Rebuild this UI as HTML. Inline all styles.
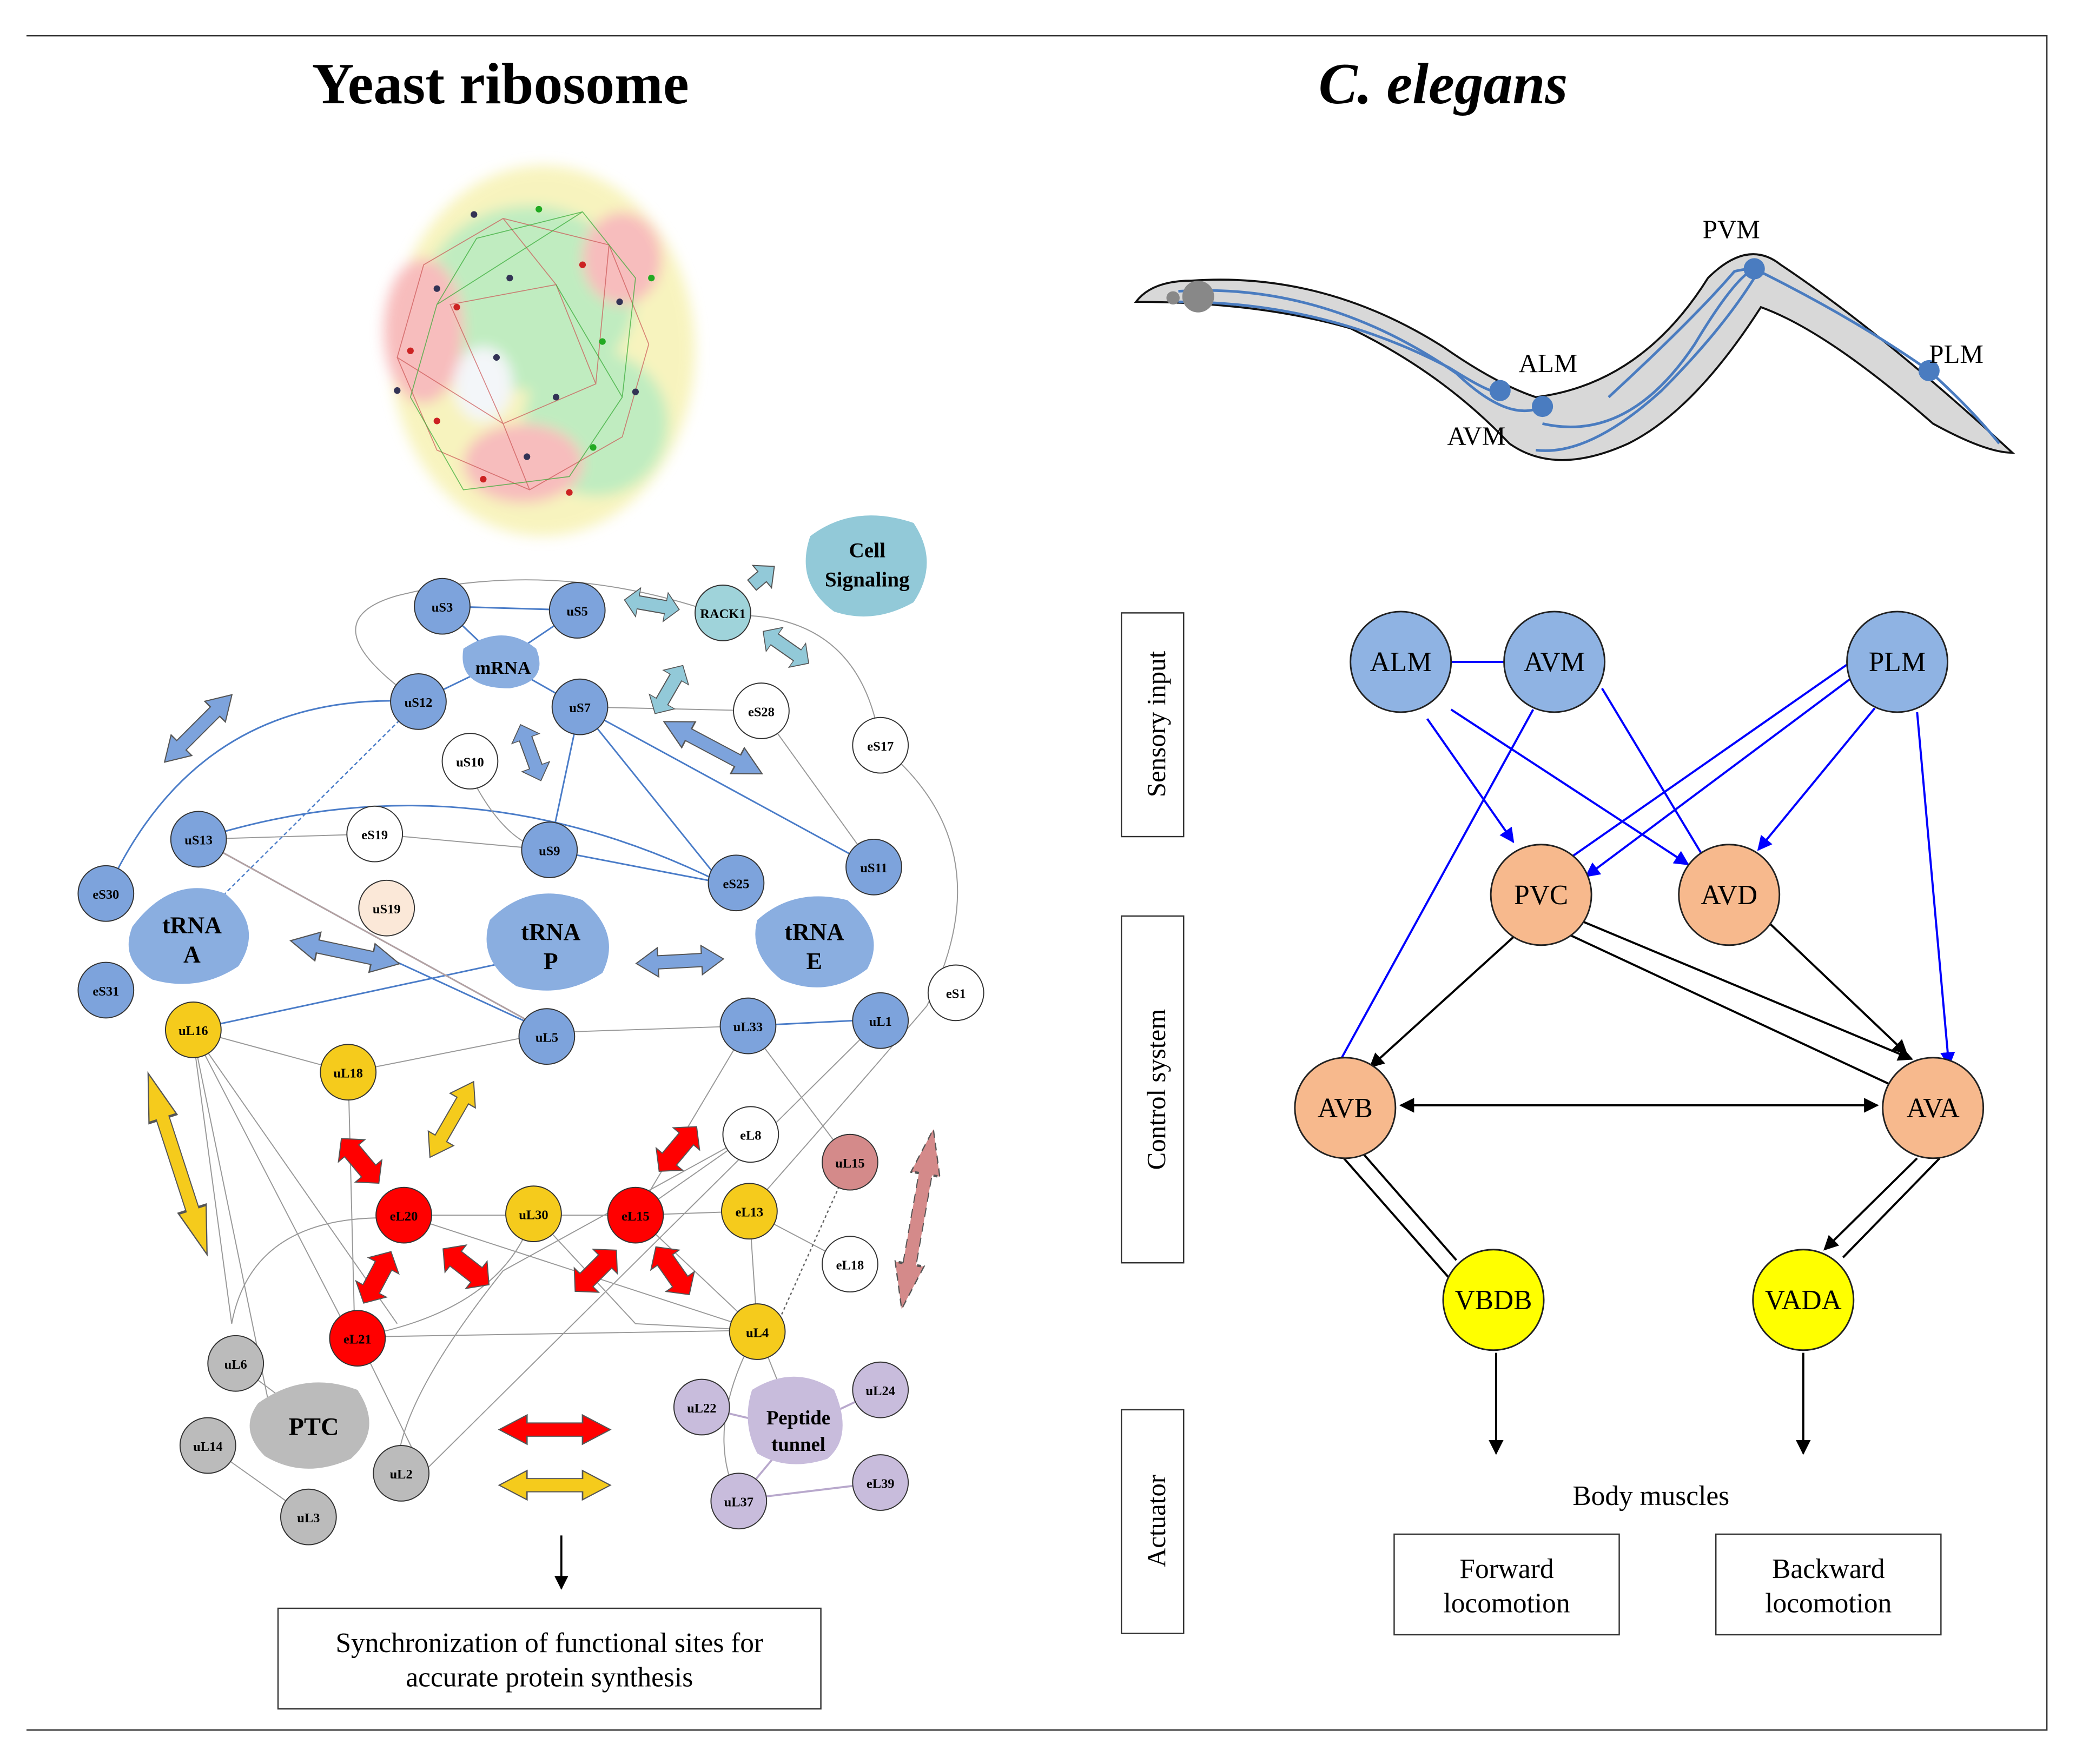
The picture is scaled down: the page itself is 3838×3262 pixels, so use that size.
<!DOCTYPE html>
<html><head><meta charset="utf-8"><style>
html,body{margin:0;padding:0;background:#fff}
svg{display:block}
text{font-family:"Liberation Serif",serif}
</style></head><body>
<svg width="3838" height="3262" viewBox="0 0 1568 1332.6" xmlns="http://www.w3.org/2000/svg">
<defs>
<marker id="ab" viewBox="0 0 10 10" refX="9" refY="5" markerWidth="7" markerHeight="7" orient="auto"><path d="M0,0L10,5L0,10z" fill="#00f"/></marker>
<marker id="ak" viewBox="0 0 10 10" refX="9" refY="5" markerWidth="7" markerHeight="7" orient="auto"><path d="M0,0L10,5L0,10z" fill="#000"/></marker>
<marker id="aks" viewBox="0 0 10 10" refX="1" refY="5" markerWidth="7" markerHeight="7" orient="auto"><path d="M10,0L0,5L10,10z" fill="#000"/></marker>
<filter id="bl"><feGaussianBlur stdDeviation="5"/></filter>
</defs>
<path d="M20,27H1546V1307H20" fill="none" stroke="#333" stroke-width="1"/>
<text x="378" y="78" font-size="44" font-weight="bold" text-anchor="middle">Yeast ribosome</text>
<text x="1090" y="78" font-size="44" font-weight="bold" font-style="italic" text-anchor="middle">C. elegans</text>

<!-- ribosome image approx -->
<g filter="url(#bl)" opacity="0.65">
<ellipse cx="410" cy="265" rx="115" ry="140" fill="#f4ee9c"/>
<ellipse cx="400" cy="225" rx="80" ry="70" fill="#9fe39f"/>
<ellipse cx="450" cy="320" rx="55" ry="55" fill="#9fe39f"/>
<ellipse cx="320" cy="250" rx="30" ry="55" fill="#f49a9a"/>
<ellipse cx="470" cy="195" rx="30" ry="35" fill="#f49a9a"/>
<ellipse cx="395" cy="350" rx="45" ry="30" fill="#f49a9a"/>
<ellipse cx="365" cy="290" rx="22" ry="28" fill="#eef2f6"/>
</g>
<g stroke="#c55" stroke-width="0.7" opacity="0.7" fill="none">
<path d="M320,200L380,165L460,185L490,260L470,330L400,370L330,340L300,270Z"/>
<path d="M340,230L420,215L450,290L380,320Z"/>
<path d="M380,165L420,215M460,185L450,290M300,270L380,320M400,370L380,320"/>
</g>
<g stroke="#3a3" stroke-width="0.7" opacity="0.7" fill="none">
<path d="M360,180L440,160L480,210L470,300L430,360L350,370L310,300L330,230Z"/>
<path d="M420,215L470,300M330,230L440,160"/>
</g>
<g fill="#335">
<circle cx="358" cy="162" r="2.5"/><circle cx="407" cy="158" r="2.5" fill="#2a2"/><circle cx="330" cy="218" r="2.5"/><circle cx="345" cy="232" r="2.5" fill="#c22"/>
<circle cx="385" cy="210" r="2.5"/><circle cx="440" cy="200" r="2.5" fill="#c22"/><circle cx="468" cy="228" r="2.5"/><circle cx="455" cy="258" r="2.5" fill="#2a2"/>
<circle cx="310" cy="265" r="2.5" fill="#c22"/><circle cx="480" cy="296" r="2.5"/><circle cx="330" cy="318" r="2.5" fill="#c22"/><circle cx="448" cy="338" r="2.5" fill="#2a2"/>
<circle cx="398" cy="345" r="2.5"/><circle cx="365" cy="362" r="2.5" fill="#c22"/><circle cx="420" cy="300" r="2.5"/><circle cx="375" cy="270" r="2.5"/>
<circle cx="492" cy="210" r="2.5" fill="#2a2"/><circle cx="430" cy="372" r="2.5" fill="#c22"/><circle cx="300" cy="295" r="2.5"/>
</g>

<!-- left network edges -->
<g stroke="#4a7cc8" stroke-width="1.2" fill="none">
<path d="M334,458L436,461"/><path d="M334,458L378,500"/><path d="M436,461L378,500"/>
<path d="M316,530L378,500"/><path d="M438,534L378,500"/>
<path d="M438,534L415,642L545,667"/><path d="M438,534L545,667"/><path d="M438,534L660,655"/>
<path d="M150,634Q350,570 545,667"/><path d="M150,634L415,780"/>
<path d="M316,530Q150,520 80,675"/>
<path d="M145,778L415,720"/>
<path d="M415,780L285,720"/>
<path d="M565,775L665,770"/>
</g>
<g stroke="#999" stroke-width="0.8" fill="none">
<path d="M150,634L283,630L415,642"/>
<path d="M438,534L575,537"/><path d="M575,537L660,655"/>
<path d="M350,575Q380,640 415,642"/>
<path d="M316,530Q230,470 300,450Q420,420 546,465"/>
<path d="M546,465Q650,460 665,563"/>
<path d="M665,563Q760,640 700,760Q640,830 565,915"/>
<path d="M145,778L263,810"/><path d="M263,810L415,780"/><path d="M415,780L565,775"/>
<path d="M145,778L265,1010"/><path d="M145,778L205,1070"/><path d="M145,778L300,1000"/>
<path d="M145,778L175,1000"/>
<path d="M263,810L268,1010"/>
<path d="M305,918L480,918"/><path d="M480,918L566,915"/>
<path d="M403,917L480,1000L572,1005"/>
<path d="M305,918L572,1005"/>
<path d="M270,1010L572,1005"/>
<path d="M270,1010Q380,990 403,917"/>
<path d="M566,915L572,1005"/><path d="M480,918L572,1005"/>
<path d="M565,775L480,918"/><path d="M565,775L642,878"/>
<path d="M566,915L642,955"/>
<path d="M567,857L480,918"/>
<path d="M665,770L320,1112"/>
<path d="M567,857L380,960Q300,1060 300,1112"/>
<path d="M175,1000Q190,920 290,920"/>
<path d="M270,1010L320,1112"/>
<path d="M572,1005Q530,1080 558,1133"/>
<path d="M572,1005L602,1080"/>
<path d="M178,1030L238,1075"/><path d="M157,1092L233,1146"/>
</g>
<g stroke="#b8a8cc" stroke-width="1.5" fill="none">
<path d="M530,1063L602,1080L665,1050"/><path d="M558,1133L665,1120"/><path d="M558,1133L602,1080"/>
</g>
<path d="M150,634L415,780" stroke="#e0b090" stroke-width="1.2" opacity="0.7" fill="none"/>
<path d="M316,530L170,675" stroke="#4a7cc8" stroke-dasharray="3,2" fill="none"/>
<path d="M642,878L585,1005" stroke="#666" stroke-dasharray="2,2" fill="none"/>

<g font-weight="bold" text-anchor="middle">
<path d="M350,490Q380,470 405,490Q415,515 385,520Q345,520 350,490Z" fill="#8aaee0"/>
<text x="380" y="509" font-size="14">mRNA</text>
<path d="M100,700Q130,660 170,675Q200,700 180,730Q150,750 115,740Q90,725 100,700Z" fill="#8aaee0"/>
<text x="145" y="705" font-size="18">tRNA</text><text x="145" y="727" font-size="18">A</text>
<path d="M370,695Q400,665 440,680Q470,705 455,735Q425,755 390,745Q360,725 370,695Z" fill="#8aaee0"/>
<text x="416" y="710" font-size="18">tRNA</text><text x="416" y="732" font-size="18">P</text>
<path d="M572,695Q600,670 640,680Q670,705 655,732Q625,755 590,740Q565,720 572,695Z" fill="#8aaee0"/>
<text x="615" y="710" font-size="18">tRNA</text><text x="615" y="732" font-size="18">E</text>
<path d="M612,405Q645,380 690,395Q710,425 690,455Q660,472 630,462Q600,440 612,405Z" fill="#92c9d8"/>
<text x="655" y="421" font-size="16">Cell</text><text x="655" y="443" font-size="16">Signaling</text>
<path d="M195,1060Q230,1035 270,1050Q290,1080 265,1102Q230,1118 200,1100Q180,1080 195,1060Z" fill="#bbb"/>
<text x="237" y="1084" font-size="19">PTC</text>
<path d="M568,1050Q600,1030 630,1050Q645,1085 625,1102Q595,1112 572,1098Q560,1075 568,1050Z" fill="#c8bcdc"/>
<text x="603" y="1076" font-size="15">Peptide</text><text x="603" y="1096" font-size="15">tunnel</text>
</g>

<g stroke="#333" stroke-width="0.8">
<g fill="#7da3dc">
<circle cx="334" cy="458" r="21"/><circle cx="436" cy="461" r="21"/><circle cx="316" cy="530" r="21"/>
<circle cx="438" cy="534" r="21"/><circle cx="415" cy="642" r="21"/><circle cx="150" cy="634" r="21"/>
<circle cx="80" cy="675" r="21"/><circle cx="80" cy="748" r="21"/><circle cx="556" cy="667" r="21"/>
<circle cx="660" cy="655" r="21"/><circle cx="665" cy="771" r="21"/><circle cx="565" cy="775" r="21"/>
<circle cx="413" cy="783" r="21"/>
</g>
<circle cx="546" cy="463" r="21" fill="#9fd3da"/>
<g fill="#fff"><circle cx="355" cy="575" r="21"/><circle cx="283" cy="630" r="21"/><circle cx="575" cy="537" r="21"/>
<circle cx="665" cy="563" r="21"/><circle cx="722" cy="750" r="21"/><circle cx="567" cy="857" r="21"/><circle cx="642" cy="955" r="21"/></g>
<circle cx="292" cy="686" r="21" fill="#fbe8d8"/>
<g fill="#f5cb1c"><circle cx="146" cy="778" r="21"/><circle cx="263" cy="810" r="21"/><circle cx="403" cy="917" r="21"/>
<circle cx="566" cy="915" r="21"/><circle cx="572" cy="1006" r="21"/></g>
<g fill="#f00"><circle cx="305" cy="918" r="21"/><circle cx="480" cy="918" r="21"/><circle cx="270" cy="1011" r="21"/></g>
<circle cx="642" cy="878" r="21" fill="#d48a8a"/>
<g fill="#bbb"><circle cx="178" cy="1030" r="21"/><circle cx="157" cy="1092" r="21"/><circle cx="233" cy="1146" r="21"/><circle cx="303" cy="1113" r="21"/></g>
<g fill="#c8bcdc"><circle cx="530" cy="1063" r="21"/><circle cx="665" cy="1050" r="21"/><circle cx="558" cy="1134" r="21"/><circle cx="665" cy="1120" r="21"/></g>
</g>
<g font-size="10" text-anchor="middle" font-weight="bold">
<text x="334" y="462">uS3</text><text x="436" y="465">uS5</text><text x="316" y="534">uS12</text>
<text x="438" y="538">uS7</text><text x="415" y="646">uS9</text><text x="150" y="638">uS13</text>
<text x="80" y="679">eS30</text><text x="80" y="752">eS31</text><text x="556" y="671">eS25</text>
<text x="660" y="659">uS11</text><text x="665" y="775">uL1</text><text x="565" y="779">uL33</text>
<text x="413" y="787">uL5</text><text x="546" y="467">RACK1</text>
<text x="355" y="579">uS10</text><text x="283" y="634">eS19</text><text x="575" y="541">eS28</text>
<text x="665" y="567">eS17</text><text x="722" y="754">eS1</text><text x="567" y="861">eL8</text><text x="642" y="959">eL18</text>
<text x="292" y="690">uS19</text>
<text x="146" y="782">uL16</text><text x="263" y="814">uL18</text><text x="403" y="921">uL30</text>
<text x="566" y="919">eL13</text><text x="572" y="1010">uL4</text>
<text x="305" y="922">eL20</text><text x="480" y="922">eL15</text><text x="270" y="1015">eL21</text>
<text x="642" y="882">uL15</text>
<text x="178" y="1034">uL6</text><text x="157" y="1096">uL14</text><text x="233" y="1150">uL3</text><text x="303" y="1117">uL2</text>
<text x="530" y="1067">uL22</text><text x="665" y="1054">uL24</text><text x="558" y="1138">uL37</text><text x="665" y="1124">eL39</text>
</g>

<g stroke="#555" stroke-width="0.8">
<g fill="#7da3dc">
<path d="M0,-5L30,-5L30,-11L45,0L30,11L30,5L0,5L0,11L-15,0L0,-11z" transform="translate(137,563) rotate(-45) scale(1.2,1)"/>
<path d="M0,-5L30,-5L30,-11L45,0L30,11L30,5L0,5L0,11L-15,0L0,-11z" transform="translate(397,558) rotate(70) scale(0.75,1)"/>
<path d="M0,-5L30,-5L30,-11L45,0L30,11L30,5L0,5L0,11L-15,0L0,-11z" transform="translate(520,555) rotate(28) scale(1.4,1)"/>
<path d="M0,-5L30,-5L30,-11L45,0L30,11L30,5L0,5L0,11L-15,0L0,-11z" transform="translate(240,715) rotate(12) scale(1.4,1)"/>
<path d="M0,-5L30,-5L30,-11L45,0L30,11L30,5L0,5L0,11L-15,0L0,-11z" transform="translate(497,727) rotate(-3) scale(1.1,1)"/>
</g>
<g fill="#92c9d8">
<path d="M0,-5L30,-5L30,-11L45,0L30,11L30,5L0,5L0,11L-15,0L0,-11z" transform="translate(482,455) rotate(10) scale(0.7,1)"/>
<path d="M0,-5L30,-5L30,-11L45,0L30,11L30,5L0,5L0,11L-15,0L0,-11z" transform="translate(500,530) rotate(-60) scale(0.7,1)"/>
<path d="M0,-5L30,-5L30,-11L45,0L30,11L30,5L0,5L0,11L-15,0L0,-11z" transform="translate(585,483) rotate(35) scale(0.7,1)"/>
<path d="M0,-5L10,-5L10,-11L22,0L10,11L10,5L0,5z" transform="translate(568,442) rotate(-40)"/>
</g>
<g fill="#f5cb1c">
<path d="M0,-5L30,-5L30,-11L45,0L30,11L30,5L0,5L0,11L-15,0L0,-11z" transform="translate(123,845) rotate(72) scale(2.4,1)"/>
<path d="M0,-5L30,-5L30,-11L45,0L30,11L30,5L0,5L0,11L-15,0L0,-11z" transform="translate(333,860) rotate(-60) scale(1.1,1)"/>
<path d="M0,-5L30,-5L30,-11L45,0L30,11L30,5L0,5L0,11L-15,0L0,-11z" transform="translate(398,1122) scale(1.4,1)"/>
</g>
<g fill="#f00">
<path d="M0,-5L30,-5L30,-11L45,0L30,11L30,5L0,5L0,11L-15,0L0,-11z" transform="translate(398,1080) scale(1.4,1)"/>
<g id="rd"><path d="M-22,0L-10,-13L-10,-7L10,-7L10,-13L22,0L10,13L10,7L-10,7L-10,13z" transform="translate(272,877) rotate(50)"/></g>
<path d="M-22,0L-10,-13L-10,-7L10,-7L10,-13L22,0L10,13L10,7L-10,7L-10,13z" transform="translate(285,965) rotate(-62)"/>
<path d="M-22,0L-10,-13L-10,-7L10,-7L10,-13L22,0L10,13L10,7L-10,7L-10,13z" transform="translate(352,957) rotate(38)"/>
<path d="M-22,0L-10,-13L-10,-7L10,-7L10,-13L22,0L10,13L10,7L-10,7L-10,13z" transform="translate(450,960) rotate(-45)"/>
<path d="M-22,0L-10,-13L-10,-7L10,-7L10,-13L22,0L10,13L10,7L-10,7L-10,13z" transform="translate(508,960) rotate(55)"/>
<path d="M-22,0L-10,-13L-10,-7L10,-7L10,-13L22,0L10,13L10,7L-10,7L-10,13z" transform="translate(512,868) rotate(-50)"/>
</g>
<path d="M0,-5L30,-5L30,-11L45,0L30,11L30,5L0,5L0,11L-15,0L0,-11z" fill="#d48a8a" stroke-dasharray="3,2" transform="translate(687,955) rotate(-80) scale(2.3,1)"/>
</g>

<path d="M424,1160V1200" stroke="#000" stroke-width="1.5" marker-end="url(#ak)"/>
<rect x="210" y="1215" width="410" height="76" fill="#fff" stroke="#333"/>
<text x="415" y="1248" font-size="21" text-anchor="middle">Synchronization of functional sites for</text>
<text x="415" y="1274" font-size="21" text-anchor="middle">accurate protein synthesis</text>

<!-- worm -->
<path d="M858,228Q870,212 900,212Q1000,205 1090,262Q1130,290 1160,300Q1240,290 1290,210Q1320,180 1345,200Q1420,250 1520,342Q1500,342 1460,320Q1380,250 1330,232Q1280,310 1230,335Q1175,360 1140,335Q1090,282 1020,248Q950,228 858,228Z" fill="#d8d8d8" stroke="#111" stroke-width="1.5"/>
<g fill="none" stroke="#4a7cc0" stroke-width="2">
<path d="M890,220Q1000,213 1100,282Q1140,320 1165,307"/>
<path d="M890,228Q1000,228 1095,278Q1130,300 1132,295"/>
<path d="M1165,320Q1230,335 1280,260Q1310,210 1325,203"/>
<path d="M1215,300Q1280,240 1310,205Q1330,200 1325,210Q1300,250 1255,295Q1200,345 1160,340"/>
<path d="M1325,203Q1400,240 1457,280Q1490,310 1510,335"/>
</g>
<circle cx="905" cy="224" r="12" fill="#888"/><circle cx="886" cy="225" r="5" fill="#888"/>
<g fill="#4a7cc0"><circle cx="1133" cy="295" r="8"/><circle cx="1165" cy="307" r="8"/><circle cx="1325" cy="203" r="8"/><circle cx="1457" cy="280" r="8"/></g>
<g font-size="20"><text x="1147" y="281">ALM</text><text x="1093" y="336">AVM</text><text x="1286" y="180">PVM</text><text x="1457" y="274">PLM</text></g>

<g fill="#fff" stroke="#333"><rect x="847" y="463" width="47" height="169"/><rect x="847" y="692" width="47" height="262"/><rect x="847" y="1065" width="47" height="169"/></g>
<g font-size="20" text-anchor="middle">
<text transform="translate(880,547) rotate(-90)">Sensory input</text>
<text transform="translate(880,823) rotate(-90)">Control system</text>
<text transform="translate(880,1149) rotate(-90)">Actuator</text>
</g>

<g stroke="#00f" stroke-width="1.6" fill="none">
<path d="M1096,500H1136"/>
<path d="M1078,543L1143,636" marker-end="url(#ab)"/>
<path d="M1096,536L1275,653" marker-end="url(#ab)"/>
<path d="M1158,536L1003,818" marker-end="url(#ab)"/>
<path d="M1210,520L1290,653" marker-end="url(#ab)"/>
<path d="M1398,500L1186,648"/>
<path d="M1404,508L1198,662" marker-end="url(#ab)"/>
<path d="M1416,535L1328,642" marker-end="url(#ab)"/>
<path d="M1448,538L1472,805" marker-end="url(#ab)"/>
</g>
<g stroke="#000" stroke-width="1.6" fill="none">
<path d="M1143,708L1035,806" marker-end="url(#ak)"/>
<path d="M1185,706L1440,825" marker-end="url(#ak)"/>
<path d="M1195,696L1444,800" marker-end="url(#ak)"/>
<path d="M1336,697L1440,796" marker-end="url(#ak)"/>
<path d="M1058,835H1418" marker-end="url(#ak)" marker-start="url(#aks)"/>
<path d="M1030,872L1100,952"/><path d="M1015,875L1095,966"/>
<path d="M1448,875L1378,944" marker-end="url(#ak)"/><path d="M1465,875L1392,950"/>
<path d="M1130,1022V1098" marker-end="url(#ak)"/><path d="M1362,1022V1098" marker-end="url(#ak)"/>
</g>
<g stroke="#222" stroke-width="1.2">
<g fill="#8fb3e3"><circle cx="1058" cy="500" r="38"/><circle cx="1174" cy="500" r="38"/><circle cx="1433" cy="500" r="38"/></g>
<g fill="#f7b98d"><circle cx="1164" cy="676" r="38"/><circle cx="1306" cy="676" r="38"/><circle cx="1016" cy="837" r="38"/><circle cx="1460" cy="837" r="38"/></g>
<g fill="#ff0"><circle cx="1128" cy="982" r="38"/><circle cx="1362" cy="982" r="38"/></g>
</g>
<g font-size="21" text-anchor="middle">
<text x="1058" y="507">ALM</text><text x="1174" y="507">AVM</text><text x="1433" y="507">PLM</text>
<text x="1164" y="683">PVC</text><text x="1306" y="683">AVD</text><text x="1016" y="844">AVB</text><text x="1460" y="844">AVA</text>
<text x="1128" y="989">VBDB</text><text x="1362" y="989">VADA</text>
<text x="1247" y="1137">Body muscles</text>
</g>
<g fill="#fff" stroke="#333"><rect x="1053" y="1159" width="170" height="76"/><rect x="1296" y="1159" width="170" height="76"/></g>
<g font-size="21" text-anchor="middle">
<text x="1138" y="1192">Forward</text><text x="1138" y="1218">locomotion</text>
<text x="1381" y="1192">Backward</text><text x="1381" y="1218">locomotion</text>
</g>
</svg>
</body></html>
